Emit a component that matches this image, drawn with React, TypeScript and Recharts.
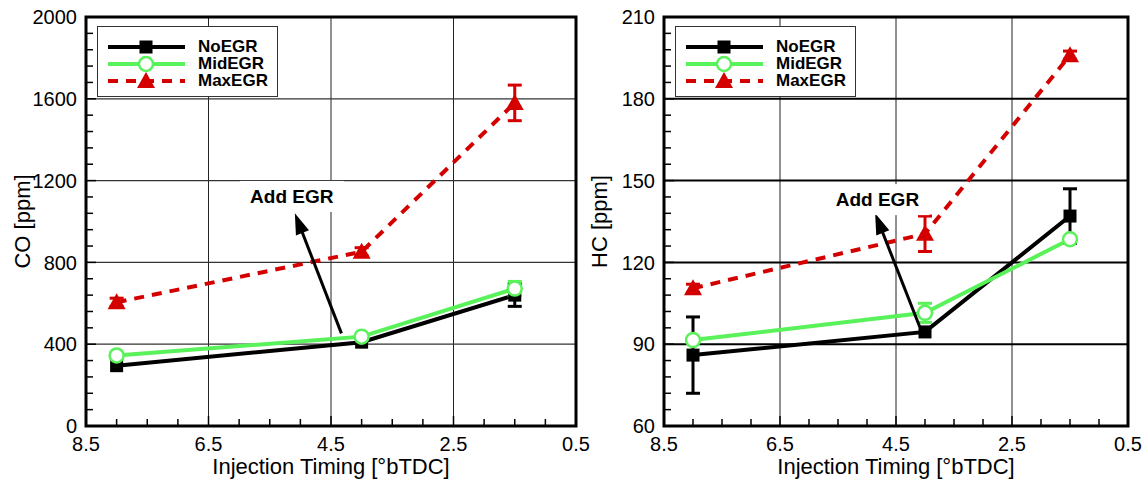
import React from "react";
import {
  LineChart,
  Line,
  XAxis,
  YAxis,
  CartesianGrid,
  ErrorBar,
  ReferenceArea,
  ReferenceLine,
  ReferenceDot,
  Legend,
} from "recharts";

// injection timing [°bTDC]
const timing = [8, 4, 1.5];

// CO [ppm]
const coNoEGR = [295, 410, 640];
const coNoEGRErr = [0, 0, 55];
const coMidEGR = [345, 437, 672];
const coMidEGRErr = [0, 0, 35];
const coMaxEGR = [605, 852, 1580];
const coMaxEGRErr = [20, 20, 87];

// HC [ppm]
const hcNoEGR = [86, 94.5, 137];
const hcNoEGRErr = [14, 0, 10];
const hcMidEGR = [91.5, 101.5, 128.5];
const hcMidEGRErr = [0, 3.5, 0];
const hcMaxEGR = [110.5, 130.5, 196];
const hcMaxEGRErr = [1.5, 6.5, 1.5];

const xMajorTicks = [8.5, 6.5, 4.5, 2.5, 0.5];
const coMajorTicks = [0, 400, 800, 1200, 1600, 2000];
const hcMajorTicks = [60, 90, 120, 150, 180, 210];

const BLACK = "#000000";
const GREEN = "#5af25a";
const RED = "#d40000";
const FONT = '"Liberation Sans", Arial, Helvetica, sans-serif';

const SERIES = [
  { key: "no", name: "NoEGR", color: BLACK, dash: undefined as string | undefined, marker: "square" },
  { key: "mid", name: "MidEGR", color: GREEN, dash: undefined as string | undefined, marker: "circle" },
  { key: "max", name: "MaxEGR", color: RED, dash: "10 8", marker: "triangle" },
];

// minor tick positions between majors
const subdivide = (majors: number[], parts: number) => {
  const out: number[] = [];
  for (let i = 0; i < majors.length - 1; i++) {
    const a = majors[i];
    const b = majors[i + 1];
    for (let k = 1; k < parts; k++) {
      out.push(Math.round((a + ((b - a) * k) / parts) * 1000) / 1000);
    }
  }
  return out;
};

const buildRows = (
  no: number[],
  noErr: number[],
  mid: number[],
  midErr: number[],
  max: number[],
  maxErr: number[]
) =>
  timing.map((x, i) => ({
    x,
    no: no[i],
    noErr: noErr[i],
    mid: mid[i],
    midErr: midErr[i],
    max: max[i],
    maxErr: maxErr[i],
  }));

const coRows = buildRows(coNoEGR, coNoEGRErr, coMidEGR, coMidEGRErr, coMaxEGR, coMaxEGRErr);
const hcRows = buildRows(hcNoEGR, hcNoEGRErr, hcMidEGR, hcMidEGRErr, hcMaxEGR, hcMaxEGRErr);

function drawMarker(kind: string, cx: number, cy: number, color: string, key?: string) {
  if (kind === "square") {
    return <rect key={key} x={cx - 6.5} y={cy - 6.5} width={13} height={13} fill={color} />;
  }
  if (kind === "circle") {
    return <circle key={key} cx={cx} cy={cy} r={7} fill="#fff" stroke={color} strokeWidth={2.5} />;
  }
  return (
    <polygon
      key={key}
      points={`${cx},${cy - 9} ${cx - 9},${cy + 7} ${cx + 9},${cy + 7}`}
      fill={color}
    />
  );
}

const dotFor = (kind: string, color: string) => (p: any) =>
  drawMarker(kind, p.cx, p.cy, color, `${kind}-${p.index}`);

function LegendBox() {
  return (
    <div
      style={{
        width: 181,
        height: 71,
        boxSizing: "border-box",
        border: "1px solid #333",
        background: "#fff",
        position: "relative",
        fontFamily: FONT,
      }}
    >
      {SERIES.map((s, i) => {
        const cy = 20 + i * 16.8;
        return (
          <div key={s.key}>
            <svg
              width={90}
              height={20}
              style={{ position: "absolute", left: 0, top: cy - 10 }}
            >
              <line
                x1={10}
                y1={10}
                x2={87}
                y2={10}
                stroke={s.color}
                strokeWidth={4}
                strokeDasharray={s.dash}
              />
              {drawMarker(s.marker, 48, 10, s.color)}
            </svg>
            <span
              style={{
                position: "absolute",
                left: 100,
                top: cy - 10,
                lineHeight: "20px",
                fontSize: 17,
                fontWeight: "bold",
                color: "#000",
              }}
            >
              {s.name}
            </span>
          </div>
        );
      })}
    </div>
  );
}

const makeXTick = (majors: number[]) => (p: any) => {
  const v = p.payload.value;
  const major = majors.includes(v);
  return (
    <g>
      <line x1={p.x} y1={p.y} x2={p.x} y2={p.y - (major ? 10 : 7)} stroke="#000" strokeWidth={1.5} />
      {major && (
        <text x={p.x} y={p.y + 25} textAnchor="middle" fontSize={20} fill="#000">
          {v}
        </text>
      )}
    </g>
  );
};

const makeYTick = (majors: number[]) => (p: any) => {
  const v = p.payload.value;
  const major = majors.includes(v);
  return (
    <g>
      <line x1={p.x} y1={p.y} x2={p.x + (major ? 10 : 7)} y2={p.y} stroke="#000" strokeWidth={1.5} />
      {major && (
        <text x={p.x - 9} y={p.y} dy="0.36em" textAnchor="end" fontSize={20} fill="#000">
          {v}
        </text>
      )}
    </g>
  );
};

const arrowShape = (p: any) => {
  const { x1, y1, x2, y2 } = p;
  const dx = x2 - x1;
  const dy = y2 - y1;
  const len = Math.hypot(dx, dy) || 1;
  const ux = dx / len;
  const uy = dy / len;
  const headLen = 21;
  const headHalf = 7;
  const bx = x2 - ux * headLen;
  const by = y2 - uy * headLen;
  return (
    <g>
      <line x1={x1} y1={y1} x2={bx + ux * 2} y2={by + uy * 2} stroke="#000" strokeWidth={3} />
      <polygon
        points={`${x2},${y2} ${bx - uy * headHalf},${by + ux * headHalf} ${bx + uy * headHalf},${by - ux * headHalf}`}
        fill="#000"
      />
    </g>
  );
};

const noteShape = (p: any) => (
  <g>
    <rect x={p.cx - 52} y={p.cy - 15} width={104} height={31} fill="#fff" />
    <text
      x={p.cx}
      y={p.cy}
      dy="0.36em"
      textAnchor="middle"
      fontSize={19}
      fontWeight="bold"
      fill="#000"
    >
      Add EGR
    </text>
  </g>
);

interface PanelProps {
  rows: ReturnType<typeof buildRows>;
  yDomain: [number, number];
  yMajor: number[];
  yLabel: string;
  width: number;
  marginRight: number;
  yAxisWidth: number;
  yLabelOffset: number;
  legendLeft: number;
  hGridStroke: string;
  hGridWidth: number;
  arrowFrom: { x: number; y: number };
  arrowTo: { x: number; y: number };
  note: { x: number; y: number };
}

function Panel(props: PanelProps) {
  const {
    rows,
    yDomain,
    yMajor,
    yLabel,
    width,
    marginRight,
    yAxisWidth,
    yLabelOffset,
    legendLeft,
    hGridStroke,
    hGridWidth,
    arrowFrom,
    arrowTo,
    note,
  } = props;
  const xTicks = [...xMajorTicks, ...subdivide(xMajorTicks, 4)];
  const yTicks = [...yMajor, ...subdivide(yMajor, 5)];
  const innerMajorY = yMajor.slice(1, -1);
  const innerMajorX = xMajorTicks.slice(1, -1);

  return (
    <LineChart
      width={width}
      height={485}
      data={rows}
      margin={{ top: 17, right: marginRight, bottom: 29, left: 2 }}
    >
      <CartesianGrid
        horizontal={false}
        verticalValues={innerMajorX}
        stroke="#222"
        strokeWidth={1}
      />
      <CartesianGrid
        vertical={false}
        horizontalValues={innerMajorY}
        stroke={hGridStroke}
        strokeWidth={hGridWidth}
      />
      <XAxis
        type="number"
        dataKey="x"
        domain={[0.5, 8.5]}
        reversed
        allowDataOverflow
        ticks={xTicks}
        interval={0}
        tickSize={0}
        tickMargin={0}
        tickLine={false}
        axisLine={false}
        height={30}
        tick={makeXTick(xMajorTicks)}
        label={{
          value: "Injection Timing [°bTDC]",
          position: "bottom",
          offset: 2,
          fontSize: 22,
          fill: "#000",
        }}
      />
      <YAxis
        type="number"
        domain={yDomain}
        allowDataOverflow
        ticks={yTicks}
        interval={0}
        tickSize={0}
        tickMargin={0}
        tickLine={false}
        axisLine={false}
        width={yAxisWidth}
        tick={makeYTick(yMajor)}
        label={{
          value: yLabel,
          angle: -90,
          position: "insideLeft",
          offset: yLabelOffset,
          fontSize: 22,
          fill: "#000",
          style: { textAnchor: "middle" },
        }}
      />
      <Line
        dataKey="no"
        stroke={BLACK}
        strokeWidth={4}
        dot={dotFor("square", BLACK)}
        activeDot={false}
        isAnimationActive={false}
      >
        <ErrorBar dataKey="noErr" width={7} strokeWidth={3} stroke={BLACK} direction="y" />
      </Line>
      <Line
        dataKey="mid"
        stroke={GREEN}
        strokeWidth={4}
        dot={dotFor("circle", GREEN)}
        activeDot={false}
        isAnimationActive={false}
      >
        <ErrorBar dataKey="midErr" width={7} strokeWidth={3} stroke={GREEN} direction="y" />
      </Line>
      <Line
        dataKey="max"
        stroke={RED}
        strokeWidth={4}
        strokeDasharray="10 8"
        dot={dotFor("triangle", RED)}
        activeDot={false}
        isAnimationActive={false}
      >
        <ErrorBar dataKey="maxErr" width={7} strokeWidth={3} stroke={RED} direction="y" />
      </Line>
      <ReferenceLine segment={[arrowFrom, arrowTo]} shape={arrowShape} />
      <ReferenceDot x={note.x} y={note.y} r={0} shape={noteShape} />
      <ReferenceArea
        x1={0.5}
        x2={8.5}
        y1={yDomain[0]}
        y2={yDomain[1]}
        fill="none"
        fillOpacity={0}
        stroke="#000"
        strokeWidth={3}
      />
      <Legend
        layout="vertical"
        verticalAlign="middle"
        align="center"
        wrapperStyle={{ left: legendLeft, top: 26, width: 181, height: 71 }}
        content={() => <LegendBox />}
      />
    </LineChart>
  );
}

export default function App() {
  return (
    <div
      style={{
        position: "absolute",
        left: 0,
        top: 0,
        width: 1147,
        height: 485,
        background: "#fff",
        fontFamily: FONT,
      }}
    >
      <div style={{ position: "absolute", left: 0, top: 0, width: 600, height: 485 }}>
        <Panel
          rows={coRows}
          yDomain={[0, 2000]}
          yMajor={coMajorTicks}
          yLabel="CO [ppm]"
          width={600}
          marginRight={24}
          yAxisWidth={84}
          yLabelOffset={20}
          legendLeft={97}
          hGridStroke="#333"
          hGridWidth={1.2}
          arrowFrom={{ x: 4.33, y: 453 }}
          arrowTo={{ x: 5.09, y: 1040 }}
          note={{ x: 5.14, y: 1125 }}
        />
      </div>
      <div style={{ position: "absolute", left: 580, top: 0, width: 567, height: 485 }}>
        <Panel
          rows={hcRows}
          yDomain={[60, 210]}
          yMajor={hcMajorTicks}
          yLabel="HC [ppm]"
          width={567}
          marginRight={19}
          yAxisWidth={82}
          yLabelOffset={17}
          legendLeft={95}
          hGridStroke="#000"
          hGridWidth={2}
          arrowFrom={{ x: 4.09, y: 96.3 }}
          arrowTo={{ x: 4.86, y: 138 }}
          note={{ x: 4.82, y: 143.2 }}
        />
      </div>
    </div>
  );
}
